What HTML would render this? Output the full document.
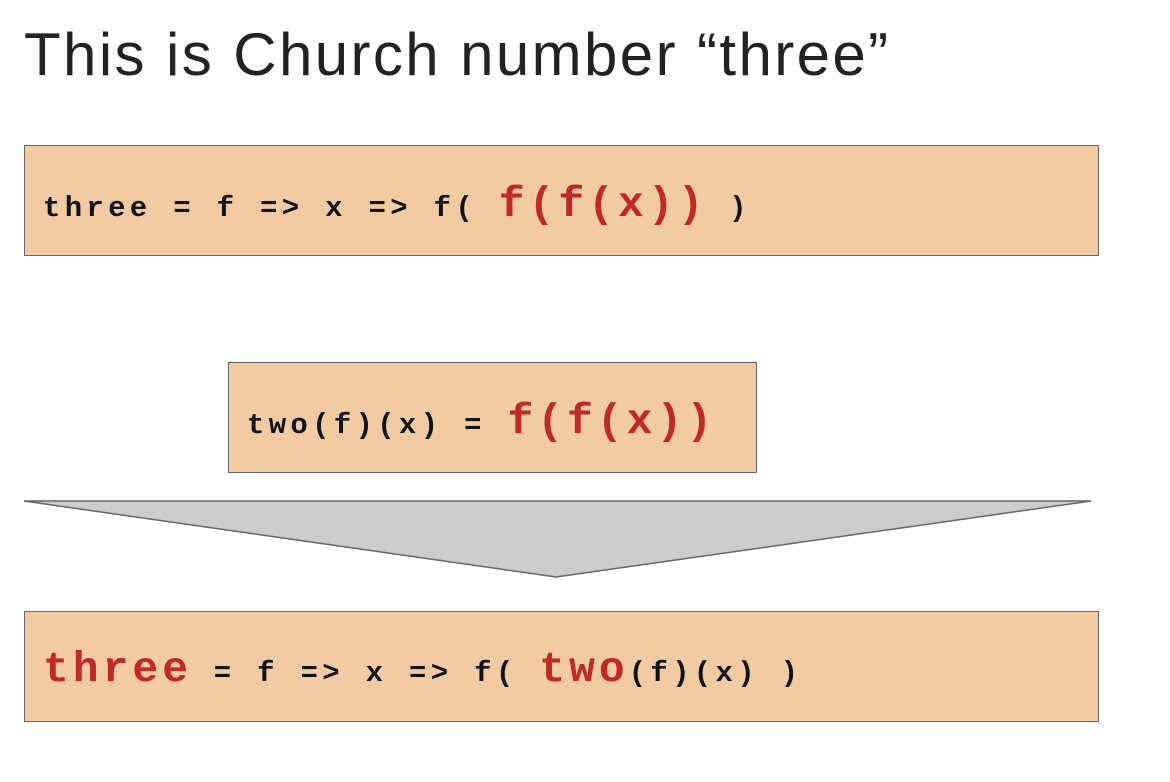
<!DOCTYPE html>
<html><head><meta charset="utf-8"><style>
body{margin:0;width:1170px;height:782px;background:#fff;position:relative;overflow:hidden;font-family:"Liberation Sans",sans-serif}
.t{position:absolute;left:24px;top:20px;font-size:60px;color:#222;font-weight:300;letter-spacing:2.4px}
.b{position:absolute;background:#f2cba3;border:1.5px solid #666;box-sizing:border-box}
.c{position:absolute;font-family:"Liberation Mono",monospace;font-weight:bold;white-space:pre;color:#111}
.s{font-size:29px;letter-spacing:4.3px}
.r{color:#c0282a;font-size:43px;letter-spacing:4px}
</style></head><body>
<div class="t">This is Church number “three”</div>
<div class="b" style="left:24px;top:145px;width:1075px;height:111px"></div>
<div class="c" style="left:43px;top:180px"><span class="s">three = f =&gt; x =&gt; f( </span><span class="r">f(f(x))</span><span class="s"> )</span></div>
<div class="b" style="left:228px;top:362px;width:529px;height:111px"></div>
<div class="c" style="left:247px;top:397px"><span class="s">two(f)(x) = </span><span class="r">f(f(x))</span></div>
<svg style="position:absolute;left:0;top:0" width="1170" height="782"><polygon points="24,501 1091,501 556,577" fill="#cccccc" stroke="#666" stroke-width="1.5"/></svg>
<div class="b" style="left:24px;top:611px;width:1075px;height:111px"></div>
<div class="c" style="left:43px;top:645px"><span class="r">three</span><span class="s"> = f =&gt; x =&gt; f( </span><span class="r">two</span><span class="s">(f)(x) )</span></div>
</body></html>
